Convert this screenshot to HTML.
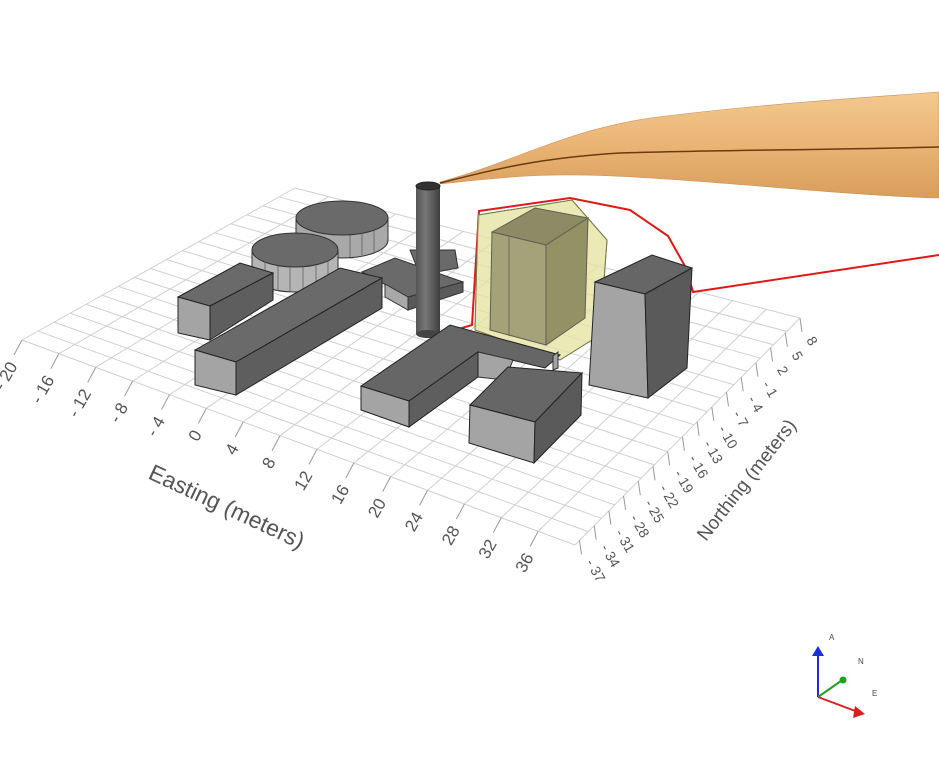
<!DOCTYPE html>
<html><head><meta charset="utf-8"><style>
html,body{margin:0;padding:0;background:#fff}
svg{display:block}
text{font-family:"Liberation Sans",sans-serif;fill:#555}
</style></head><body>
<svg id="s" width="939" height="764" viewBox="0 0 939 764" xmlns="http://www.w3.org/2000/svg">
<defs>
<linearGradient id="pl" x1="0" y1="0" x2="0" y2="1">
<stop offset="0" stop-color="#f3c98f"/><stop offset="0.5" stop-color="#e9b474"/><stop offset="1" stop-color="#d99d5c"/>
</linearGradient>
<linearGradient id="ch" x1="0" y1="0" x2="1" y2="0">
<stop offset="0" stop-color="#555"/><stop offset="0.4" stop-color="#777"/><stop offset="1" stop-color="#3e3e3e"/>
</linearGradient>
</defs>
<g id="grid" stroke="#cfcfcf" stroke-width="1" fill="none"></g>
<g id="ticks" stroke="#999" stroke-width="1"></g>
<g id="labels"></g>
<text x="0" y="0" font-size="23" transform="translate(147,478) rotate(25)">Easting (meters)</text>
<text x="0" y="0" font-size="19" transform="translate(706,542) rotate(-52)">Northing (meters)</text>

<!-- plume -->
<path d="M440,182 C520,160 560,132 650,118 C760,104 860,98 939,92 L939,198 C860,196 760,185 650,178 C560,172 520,175 440,184 Z" fill="url(#pl)" stroke="#c8925a" stroke-width="0.6"/>
<path d="M440,183 C500,168 540,158 620,153 C720,150 820,150 939,147" stroke="#6b3a10" stroke-width="1.5" fill="none"/>

<!-- red line -->
<polyline points="445,333 472,325 479,211 570,198 630,210 668,236 686,268 693,292 939,255" fill="none" stroke="#e01818" stroke-width="2"/>

<!-- tanks -->
<path d="M296,218 L296,240 A46,18 0 0 0 388,240 L388,218 Z" fill="#a9a9a9" stroke="#333"/>
<ellipse cx="342" cy="218" rx="46" ry="17" fill="#6a6a6a" stroke="#333"/>
<path d="M252,250 L252,275 A43,17 0 0 0 338,275 L338,250 Z" fill="#b5b5b5" stroke="#333"/>
<ellipse cx="295" cy="250" rx="43" ry="17" fill="#6a6a6a" stroke="#333"/>
<g stroke="#555" stroke-width="0.7">
<line x1="265" y1="263" x2="265" y2="287"/><line x1="278" y1="266" x2="278" y2="291"/><line x1="290" y1="267" x2="290" y2="292"/><line x1="303" y1="267" x2="303" y2="292"/><line x1="316" y1="265" x2="316" y2="290"/><line x1="328" y1="261" x2="328" y2="286"/>
<line x1="350" y1="235" x2="350" y2="257"/><line x1="362" y1="233" x2="362" y2="255"/><line x1="374" y1="230" x2="374" y2="252"/>
</g>

<!-- small L behind chimney -->
<polygon points="410,250 455,250 458,268 420,275" fill="#6a6a6a" stroke="#333"/>
<polygon points="362,272 395,258 463,282 408,297" fill="#6a6a6a" stroke="#333"/>
<polygon points="408,297 463,282 463,292 408,310" fill="#5a5a5a" stroke="#333"/>
<polygon points="385,284 408,297 408,310 385,297" fill="#a8a8a8" stroke="#333"/>

<!-- box A -->
<polygon points="178,297 240,263 273,273 210,306" fill="#6a6a6a" stroke="#222"/>
<polygon points="178,297 210,306 210,340 178,333" fill="#a4a4a4" stroke="#222"/>
<polygon points="210,306 273,273 273,300 210,340" fill="#5e5e5e" stroke="#222"/>

<!-- long box -->
<polygon points="195,350 340,268 382,278 236,362" fill="#6a6a6a" stroke="#222"/>
<polygon points="195,350 236,362 236,395 195,385" fill="#a4a4a4" stroke="#222"/>
<polygon points="236,362 382,278 382,308 236,395" fill="#5e5e5e" stroke="#222"/>

<!-- chimney -->
<rect x="416" y="186" width="24" height="148" fill="url(#ch)"/>
<ellipse cx="428" cy="334" rx="12" ry="4" fill="#444"/>
<ellipse cx="428" cy="186" rx="12" ry="4" fill="#333" stroke="#222"/>

<!-- green hull -->
<polygon points="478,215 572,200 607,240 600,335 560,360 475,330" fill="#e6e2a0" fill-opacity="0.7" stroke="#7a7a4a" stroke-width="1"/>
<polygon points="492,232 535,208 588,218 546,245" fill="#6e6e50" stroke="#333"/>
<polygon points="492,232 546,245 546,345 490,330" fill="#8c8c6a" stroke="#333"/>
<polygon points="546,245 588,218 585,318 546,345" fill="#77774f" stroke="#333"/>
<line x1="509" y1="236" x2="509" y2="336" stroke="#444"/>
<polygon points="478,215 572,200 607,240 600,335 560,360 475,330" fill="#e8e4a4" fill-opacity="0.25" stroke="#7a7a4a"/>

<!-- U building -->
<polygon points="361,386 450,325 560,355 545,368 478,352 409,401" fill="#666" stroke="#222"/>
<polygon points="478,352 513,360 505,380 478,377" fill="#a4a4a4" stroke="#333"/>
<polygon points="361,386 409,401 409,427 361,410" fill="#a4a4a4" stroke="#222"/>
<polygon points="409,401 478,352 478,377 409,427" fill="#5e5e5e" stroke="#222"/>
<polygon points="553,356 558,352 558,368 553,370" fill="#a4a4a4" stroke="#333"/>
<!-- second box -->
<polygon points="470,405 508,367 582,373 535,422" fill="#666" stroke="#222"/>
<polygon points="470,405 535,422 534,463 469,443" fill="#a4a4a4" stroke="#222"/>
<polygon points="535,422 582,373 581,415 534,463" fill="#5a5a5a" stroke="#222"/>

<!-- tall box -->
<polygon points="595,282 652,255 692,268 645,294" fill="#666" stroke="#222"/>
<polygon points="595,282 645,294 648,398 589,385" fill="#a4a4a4" stroke="#222"/>
<polygon points="645,294 692,268 687,368 648,398" fill="#5a5a5a" stroke="#222"/>

<!-- triad -->
<g stroke-width="2" fill="none">
<line x1="818" y1="697" x2="818" y2="654" stroke="#1a2fd6"/>
<line x1="818" y1="697" x2="841" y2="681" stroke="#22a022"/>
<line x1="818" y1="697" x2="858" y2="712" stroke="#d62020"/>
</g>
<polygon points="812,656 818,646 824,656" fill="#1a2fd6"/>
<circle cx="843" cy="680" r="3.5" fill="#22a022"/>
<polygon points="855,706 865,714 853,718" fill="#d62020"/>
<text x="829" y="640" font-size="8" style="fill:#445">A</text>
<text x="858" y="664" font-size="8" style="fill:#445">N</text>
<text x="872" y="696" font-size="8" style="fill:#445">E</text>
</svg>
<script>
(function(){
var P00=[22,340],P10=[575,545],P11=[800,318],P01=[295,188];
function pt(u,v){var a=[P00[0]+(P10[0]-P00[0])*u,P00[1]+(P10[1]-P00[1])*u];
var b=[P01[0]+(P11[0]-P01[0])*u,P01[1]+(P11[1]-P01[1])*u];
return [a[0]+(b[0]-a[0])*v,a[1]+(b[1]-a[1])*v];}
var g=document.getElementById('grid'),t=document.getElementById('ticks'),L=document.getElementById('labels');
var s='';
var NE=15,NN=17;
for(var i=0;i<=NE;i++){var a=pt(i/NE,0),b=pt(i/NE,1);s+='<line x1="'+a[0]+'" y1="'+a[1]+'" x2="'+b[0]+'" y2="'+b[1]+'"/>';}
for(var j=0;j<=NN;j++){var a=pt(0,j/NN),b=pt(1,j/NN);s+='<line x1="'+a[0]+'" y1="'+a[1]+'" x2="'+b[0]+'" y2="'+b[1]+'"/>';}
g.innerHTML=s;
var ts='',ls='';
var E=[-20,-16,-12,-8,-4,0,4,8,12,16,20,24,28,32,36];
for(var k=0;k<E.length;k++){var u=k/NE;var p=pt(u,0);
ts+='<line x1="'+p[0]+'" y1="'+p[1]+'" x2="'+(p[0]-8)+'" y2="'+(p[1]+15)+'"/>';
var lx=p[0]-4,ly=p[1]+26;
ls+='<text text-anchor="end" transform="translate('+lx+','+ly+') rotate(-60)" font-size="17">'+(E[k]<0?'- '+(-E[k]):E[k])+'</text>';}
var N=[8,5,2,-1,-4,-7,-10,-13,-16,-19,-22,-25,-28,-31,-34,-37];
for(var k=0;k<N.length;k++){var v=1-k/(N.length-1)*0.98;var p=pt(1,v);
ts+='<line x1="'+p[0]+'" y1="'+p[1]+'" x2="'+(p[0]+2)+'" y2="'+(p[1]+14)+'"/>';
var lx=p[0]+6,ly=p[1]+22;
ls+='<text transform="translate('+lx+','+ly+') rotate(60)" font-size="14">'+(N[k]<0?'- '+(-N[k]):N[k])+'</text>';}
t.innerHTML=ts;L.innerHTML=ls;
})();
</script>
</body></html>
